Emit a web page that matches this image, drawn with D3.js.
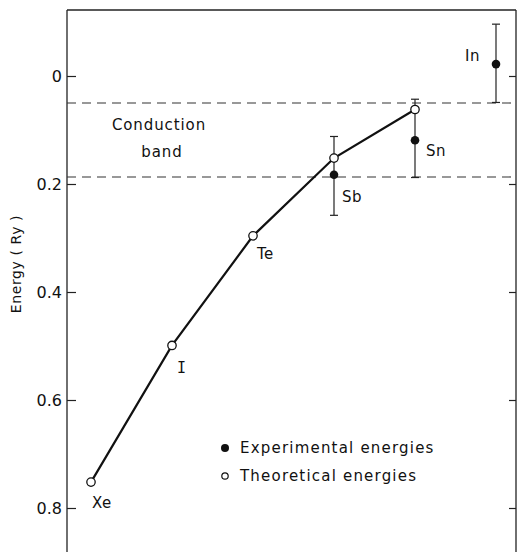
<!DOCTYPE html>
<html><head><meta charset="utf-8">
<script src="https://cdn.jsdelivr.net/npm/d3@7"></script>
<style>
html,body{margin:0;padding:0;background:#fff;}
text{font-family:"DejaVu Sans",sans-serif;fill:#111;}
</style></head>
<body>
<svg id="chart" width="518" height="552"></svg>
<script>
// ---- data ----
const elements = ["Xe", "I", "Te", "Sb", "Sn", "In"];
const theoretical = [0.752, 0.499, 0.296, 0.152, 0.062]; // Xe..Sn
const expElements = ["Sb", "Sn", "In"];
const experimental = [0.183, 0.119, -0.022];
const errLow = [0.112, 0.043, -0.096];
const errHigh = [0.258, 0.188, 0.049];
const bandEdges = [0.05, 0.187];
const yTicks = [0, 0.2, 0.4, 0.6, 0.8];
const yTickLabels = ["0", "0.2", "0.4", "0.6", "0.8"];
const legendLabels = ["Experimental energies", "Theoretical energies"];

(function () {
const svg = d3.select("#chart");
const W = 518, H = 552;
const frameL = 67, frameR = 516, frameT = 10;

const y = d3.scaleLinear().domain([0, 0.8]).range([76, 508]);
const x = d3.scaleLinear().domain([0, elements.length - 1]).range([91, 496]);

// frame: left axis, top, right
svg.append("line").attr("x1", frameL).attr("x2", frameL).attr("y1", frameT).attr("y2", H)
  .attr("stroke", "#222").attr("stroke-width", 1.3);
svg.append("line").attr("x1", frameL).attr("x2", frameR).attr("y1", frameT).attr("y2", frameT)
  .attr("stroke", "#222").attr("stroke-width", 1.5);
svg.append("line").attr("x1", frameR).attr("x2", frameR).attr("y1", frameT).attr("y2", H)
  .attr("stroke", "#222").attr("stroke-width", 1.3);

// ticks (inward)
const yAxisL = d3.axisRight(y).tickValues(yTicks).tickSize(9).tickFormat("");
svg.append("g").attr("transform", `translate(${frameL},0)`).call(yAxisL)
  .call(g => g.select(".domain").remove())
  .call(g => g.selectAll("line").attr("stroke", "#222").attr("stroke-width", 1.2));
const yAxisR = d3.axisLeft(y).tickValues(yTicks).tickSize(7).tickFormat("");
svg.append("g").attr("transform", `translate(${frameR},0)`).call(yAxisR)
  .call(g => g.select(".domain").remove())
  .call(g => g.selectAll("line").attr("stroke", "#222").attr("stroke-width", 1.2));

// tick labels
svg.append("g").selectAll("text").data(yTicks).join("text")
  .attr("x", 62).attr("y", d => y(d)).attr("dy", "0.36em")
  .attr("text-anchor", "end").style("font-size", "16px")
  .text((d, i) => yTickLabels[i]);

// y title
svg.append("text").attr("transform", `translate(21,264) rotate(-90)`)
  .attr("text-anchor", "middle").style("font-size", "14px").style("letter-spacing", "0.6px")
  .text("Energy ( Ry )");

// band dashed lines
svg.append("g").selectAll("line").data(bandEdges).join("line")
  .attr("x1", frameL).attr("x2", frameR).attr("y1", d => y(d)).attr("y2", d => y(d))
  .attr("stroke", "#333").attr("stroke-width", 1.1).attr("stroke-dasharray", "9,6");

svg.append("text").attr("x", 159).attr("y", 130).attr("text-anchor", "middle")
  .style("font-size", "15px").style("letter-spacing", "0.9px").text("Conduction");
svg.append("text").attr("x", 162).attr("y", 157).attr("text-anchor", "middle")
  .style("font-size", "15px").style("letter-spacing", "0.9px").text("band");

// error bars
const expIdx = expElements.map(e => elements.indexOf(e));
const eb = svg.append("g").attr("stroke", "#222").attr("stroke-width", 1.2);
expIdx.forEach((xi, i) => {
  const cx = x(xi);
  eb.append("line").attr("x1", cx).attr("x2", cx).attr("y1", y(errLow[i])).attr("y2", y(errHigh[i]));
  eb.append("line").attr("x1", cx - 4).attr("x2", cx + 4).attr("y1", y(errLow[i])).attr("y2", y(errLow[i]));
  eb.append("line").attr("x1", cx - 4).attr("x2", cx + 4).attr("y1", y(errHigh[i])).attr("y2", y(errHigh[i]));
});

// theoretical line
const line = d3.line().x((d, i) => x(i)).y(d => y(d));
svg.append("path").datum(theoretical).attr("d", line)
  .attr("fill", "none").attr("stroke", "#111").attr("stroke-width", 2.2);

// experimental dots
svg.append("g").selectAll("circle").data(experimental).join("circle")
  .attr("cx", (d, i) => x(expIdx[i])).attr("cy", d => y(d)).attr("r", 4.3).attr("fill", "#111");

// theoretical circles
svg.append("g").selectAll("circle").data(theoretical).join("circle")
  .attr("cx", (d, i) => x(i)).attr("cy", d => y(d)).attr("r", 4.2)
  .attr("fill", "#fff").attr("stroke", "#111").attr("stroke-width", 1.3);

// element labels
const labelOffset = {
  Xe: [1, 26], I: [5, 28], Te: [4, 23], Sb: [8, 27], Sn: [11, 16], In: [-31, -3]
};
const labelBase = elements.map((e, i) => expElements.includes(e) ? experimental[expElements.indexOf(e)] : theoretical[i]);
svg.append("g").selectAll("text").data(elements).join("text")
  .attr("x", (d, i) => x(i) + labelOffset[d][0])
  .attr("y", (d, i) => y(labelBase[i]) + labelOffset[d][1])
  .style("font-family", d => d === "I" ? "'DejaVu Sans Mono', monospace" : null)
  .style("font-size", "15px").style("letter-spacing", "0.5px")
  .text(d => d);

// legend
const lg = svg.append("g");
lg.append("circle").attr("cx", 225).attr("cy", 448).attr("r", 4).attr("fill", "#111");
lg.append("circle").attr("cx", 225).attr("cy", 476).attr("r", 3.2).attr("fill", "#fff")
  .attr("stroke", "#111").attr("stroke-width", 1.2);
lg.selectAll("text").data(legendLabels).join("text")
  .attr("x", 240).attr("y", (d, i) => 453 + i * 28)
  .style("font-size", "15px").style("letter-spacing", "1.2px")
  .text(d => d.replace(" ", "  "));
})();
</script>
</body></html>
